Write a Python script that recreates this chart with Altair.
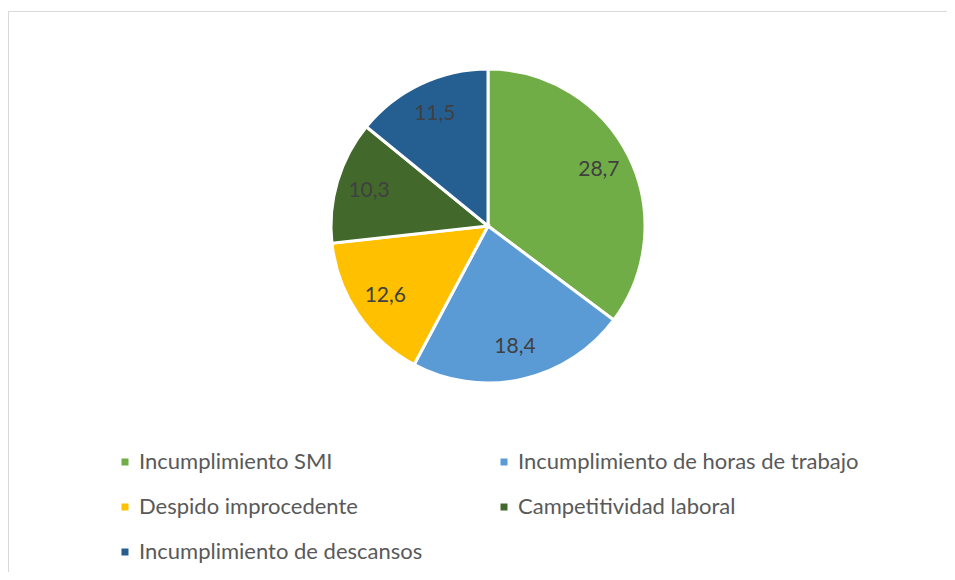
import altair as alt
import pandas as pd

categories = [
    "Incumplimiento SMI",
    "Incumplimiento de horas de trabajo",
    "Despido improcedente",
    "Campetitividad laboral",
    "Incumplimiento de descansos",
]
values = [28.7, 18.4, 12.6, 10.3, 11.5]
colors = ["#70AD47", "#5B9BD5", "#FFC000", "#43682B", "#255E91"]

df = pd.DataFrame({
    "cat": categories,
    "value": values,
    "idx": list(range(len(categories))),
    "label": [f"{v:.1f}".replace(".", ",") for v in values],
})

W, H = 939, 564
CX, CY = 480, 218
R = 157
FONT = "Lato"

color = alt.Color(
    "cat:N",
    scale=alt.Scale(domain=categories, range=colors),
    legend=alt.Legend(
        title=None,
        orient="none",
        legendX=106,
        legendY=443,
        columns=2,
        columnPadding=70,
        rowPadding=23,
        symbolType="square",
        symbolSize=49,
        symbolStrokeWidth=0,
        labelFontSize=22,
        labelFont=FONT,
        labelColor="#595959",
        labelLimit=0,
        labelOffset=3,
        padding=0,
        direction="horizontal",
    ),
)

base = alt.Chart(df).encode(
    theta=alt.Theta("value:Q", stack=True),
    order=alt.Order("idx:Q"),
)

pie = base.mark_arc(radius=R, stroke="white", strokeWidth=3).encode(
    color=color,
    x=alt.value(CX),
    y=alt.value(CY),
)

labels = base.mark_text(radius=124, fontSize=21, font=FONT, color="#404040").encode(
    text="label:N",
    x=alt.value(CX),
    y=alt.value(CY),
)

top_line = alt.Chart(df).mark_rule(color="#D9D9D9", strokeWidth=1).encode(
    x=alt.value(0), x2=alt.value(W), y=alt.value(3.5)
)
left_line = alt.Chart(df).mark_rule(color="#D9D9D9", strokeWidth=1).encode(
    x=alt.value(0.5), y=alt.value(3), y2=alt.value(H)
)

chart = alt.layer(top_line, left_line, pie, labels).properties(
    width=W,
    height=H,
    autosize=alt.AutoSizeParams(type="none"),
    padding=0,
).configure_view(strokeWidth=0)

chart.save("out.html", embed_options={"renderer": "svg", "actions": False})
